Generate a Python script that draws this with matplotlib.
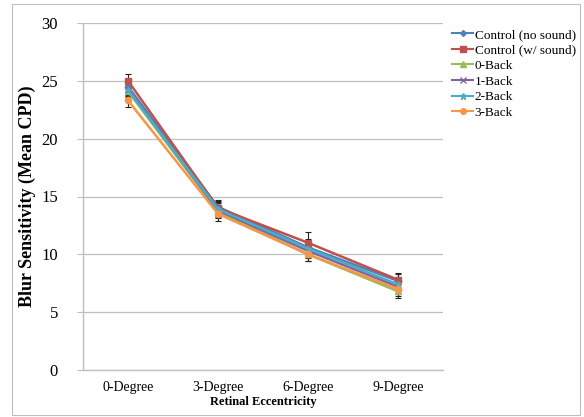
import numpy as np
import matplotlib
matplotlib.use("Agg")
import matplotlib.pyplot as plt
from matplotlib.patches import Rectangle
from matplotlib.lines import Line2D

categories = ["0-Degree", "3-Degree", "6-Degree", "9-Degree"]
series_names = ["Control (no sound)", "Control (w/ sound)", "0-Back", "1-Back", "2-Back", "3-Back"]

ctrl_no_sound = [24.5, 14.1, 10.6, 7.7]
ctrl_sound = [25.0, 14.0, 11.0, 7.8]
back0 = [24.1, 13.7, 10.0, 6.8]
back1 = [24.3, 13.8, 10.3, 7.2]
back2 = [24.2, 13.9, 10.5, 7.4]
back3 = [23.3, 13.5, 10.0, 7.0]

err_no_sound = [0.5, 0.6, 0.7, 0.6]
err_sound = [0.6, 0.6, 0.9, 0.6]
err_back0 = [0.5, 0.6, 0.6, 0.6]
err_back1 = [0.5, 0.6, 0.6, 0.6]
err_back2 = [0.5, 0.6, 0.6, 0.6]
err_back3 = [0.6, 0.6, 0.6, 0.6]

values = [ctrl_no_sound, ctrl_sound, back0, back1, back2, back3]
errors = [err_no_sound, err_sound, err_back0, err_back1, err_back2, err_back3]
colors = ["#4F81BD", "#C0504D", "#9BBB59", "#8064A2", "#4BACC6", "#F79646"]
markers = ["D", "s", "^", "x", "*", "o"]
msizes = [3.5, 4.5, 4.5, 4.5, 5, 4.5]

plt.rcParams["font.family"] = ["Liberation Serif", "DejaVu Serif"]

fig = plt.figure(figsize=(5.84, 4.17), dpi=100)
ax = fig.add_axes([83 / 584, 1 - 370 / 417, 360 / 584, 347 / 417])

x = np.arange(len(categories))
handles = []
for name, vals, errs, c, m, ms in zip(series_names, values, errors, colors, markers, msizes):
    ax.errorbar(x, vals, yerr=errs, color=c, marker=m, markersize=ms, linewidth=1.8,
                ecolor="#222222", elinewidth=0.8, capsize=2, capthick=0.8)
    handles.append(Line2D([], [], color=c, marker=m, markersize=ms - 0.5, linewidth=1.5, label=name))

ax.set_xlim(-0.5, 3.5)
ax.set_ylim(0, 30)
ax.set_yticks(range(0, 31, 5))
ax.set_xticks(x)
ax.set_xticklabels(categories, fontsize=10)
ax.tick_params(axis="y", labelsize=12, length=4, color="#BFBFBF", pad=14)
ax.tick_params(axis="x", length=0, pad=8)
ax.grid(axis="y", color="#BFBFBF", linewidth=0.9)
ax.set_axisbelow(True)
for side in ["top", "right"]:
    ax.spines[side].set_visible(False)
for side in ["left", "bottom"]:
    ax.spines[side].set_color("#BFBFBF")
    ax.spines[side].set_linewidth(1.0)

ax.set_ylabel("Blur Sensitivity (Mean CPD)", fontsize=13, fontweight="bold", labelpad=4)
ax.set_xlabel("Retinal Eccentricity", fontsize=9, fontweight="bold", labelpad=1)

ax.legend(handles=handles, loc="upper left", bbox_to_anchor=(1.0, 1.01), frameon=False, fontsize=9.5,
          handlelength=1.6, handletextpad=0.1, labelspacing=0.25, borderaxespad=0.3)

fig.patches.append(Rectangle((12 / 584, 2 / 417), 568 / 584, 411 / 417, transform=fig.transFigure,
                             fill=False, edgecolor="#BFBFBF", linewidth=0.8))

fig.savefig("out.png", dpi=100)
